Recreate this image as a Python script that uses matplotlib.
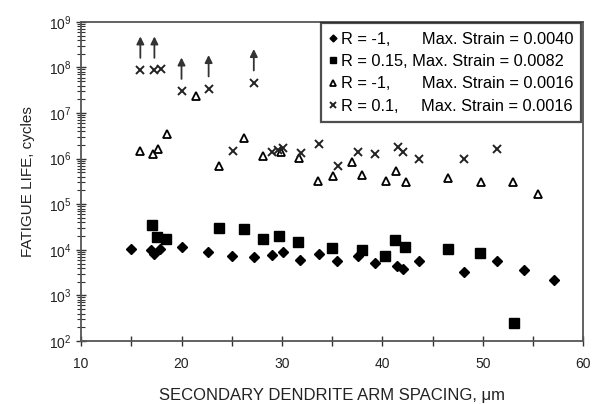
import numpy as np
import matplotlib.pyplot as plt
from matplotlib.ticker import LogLocator, FixedLocator, NullFormatter

plt.rcParams['font.family'] = ['Liberation Sans', 'DejaVu Sans']

# R = -1, max strain 0.0040
sdas_a = [15.0, 17.0, 17.3, 17.9, 20.0, 22.6, 25.0, 27.2, 29.0, 30.1, 31.8, 33.7,
          35.5, 37.6, 39.3, 41.5, 42.1, 43.7, 48.1, 51.4, 54.1, 57.1]
life_a = [1.02e4, 1.0e4, 8.1e3, 1.02e4, 1.17e4, 9.1e3, 7.4e3, 7.1e3, 7.8e3, 8.9e3,
          6.0e3, 8.1e3, 5.8e3, 7.2e3, 5.2e3, 4.3e3, 3.7e3, 5.8e3, 3.3e3, 5.6e3,
          3.6e3, 2.2e3]

# R = 0.15, max strain 0.0082
sdas_b = [17.1, 17.6, 18.5, 23.7, 26.2, 28.1, 29.7, 31.6, 35.0, 38.0, 40.3, 41.3,
          42.3, 46.5, 49.7, 53.1]
life_b = [3.5e4, 1.95e4, 1.75e4, 2.95e4, 2.8e4, 1.75e4, 2.05e4, 1.5e4, 1.07e4,
          1.0e4, 7.4e3, 1.6e4, 1.17e4, 1.05e4, 8.3e3, 2.45e2]

# R = -1, max strain 0.0016
sdas_c = [15.9, 17.2, 17.7, 18.6, 21.4, 23.7, 26.2, 28.1, 29.9, 31.7, 33.6, 35.1,
          37.0, 38.0, 40.4, 41.4, 42.4, 46.5, 49.8, 53.0, 55.5]
life_c = [1.5e6, 1.25e6, 1.6e6, 3.5e6, 2.35e7, 6.9e5, 2.8e6, 1.15e6, 1.4e6, 1.05e6,
          3.3e5, 4.2e5, 8.3e5, 4.4e5, 3.2e5, 5.4e5, 3.0e5, 3.7e5, 3.1e5, 3.1e5,
          1.65e5]

# R = 0.1, max strain 0.0016
sdas_d = [15.9, 17.3, 18.0, 20.0, 22.7, 27.2, 25.1, 29.0, 29.6, 30.1, 31.9, 33.7,
          35.6, 37.6, 39.3, 41.6, 42.1, 43.7, 48.1, 51.4]
life_d = [8.7e7, 8.7e7, 9.1e7, 3.0e7, 3.4e7, 4.6e7, 1.5e6, 1.4e6, 1.55e6, 1.7e6,
          1.3e6, 2.1e6, 6.9e5, 1.38e6, 1.23e6, 1.8e6, 1.38e6, 9.8e5, 9.8e5, 1.6e6]

# run-outs (specimens that did not fail) among the R = 0.1 series
runout_idx = [0, 1, 3, 4, 5]

xtick_vals = [10, 15, 20, 25, 30, 35, 40, 45, 50, 55, 60]
xtick_labels = ['10', '', '20', '', '30', '', '40', '', '50', '', '60']

labels = ['R = -1,       Max. Strain = 0.0040',
          'R = 0.15, Max. Strain = 0.0082',
          'R = -1,       Max. Strain = 0.0016',
          'R = 0.1,     Max. Strain = 0.0016']

fig = plt.figure(figsize=(5.92, 4.04), dpi=100)
ax = fig.add_axes([0.137, 0.156, 0.848, 0.79])

ax.plot(sdas_a, life_a, 'D', ms=5, color='black', mec='black', ls='none', label=labels[0])
ax.plot(sdas_b, life_b, 's', ms=6.5, color='black', mec='black', ls='none', label=labels[1])
ax.plot(sdas_c, life_c, '^', ms=6, mfc='white', mec='black', mew=1.3, ls='none', label=labels[2])
ax.plot(sdas_d, life_d, 'x', ms=6, color='#222222', mew=1.4, ls='none', label=labels[3])

for i in runout_idx:
    x, y = sdas_d[i], life_d[i]
    ax.annotate('', xy=(x, y * 10**0.74), xytext=(x, y * 10**0.27),
                arrowprops=dict(arrowstyle='-|>', color='#333333', lw=1.3,
                                mutation_scale=11, shrinkA=0, shrinkB=0))

ax.set_yscale('log')
ax.set_xlim(10, 60)
ax.set_ylim(1e2, 1e9)
ax.xaxis.set_major_locator(FixedLocator(xtick_vals))
ax.set_xticklabels(xtick_labels)
ax.yaxis.set_major_locator(LogLocator(base=10, numticks=10))
ax.yaxis.set_minor_locator(LogLocator(base=10, subs=np.arange(2, 10), numticks=10))
ax.yaxis.set_minor_formatter(NullFormatter())

ax.tick_params(axis='both', which='major', direction='inout', length=7, width=1,
               labelsize=10, color='#333333', labelcolor='#222222')
ax.tick_params(axis='y', which='minor', direction='inout', length=6, width=0.8,
               color='#333333')
ax.tick_params(axis='x', pad=8)
for s in ax.spines.values():
    s.set_linewidth(1.3)
    s.set_color('#555555')

ax.set_xlabel('SECONDARY DENDRITE ARM SPACING, \u03bcm', fontsize=12,
              color='#222222', labelpad=12)
ax.set_ylabel('FATIGUE LIFE, cycles', fontsize=11, color='#222222', labelpad=10)

leg = ax.legend(loc='upper right', borderaxespad=0.1, fontsize=11.8, frameon=True,
                fancybox=False, handlelength=0.4, handletextpad=0.3,
                borderpad=0.5, labelspacing=0.45, markerscale=0.7)
leg.get_frame().set_edgecolor('#222222')
leg.get_frame().set_linewidth(1.6)

fig.savefig('out.png', dpi=100)
